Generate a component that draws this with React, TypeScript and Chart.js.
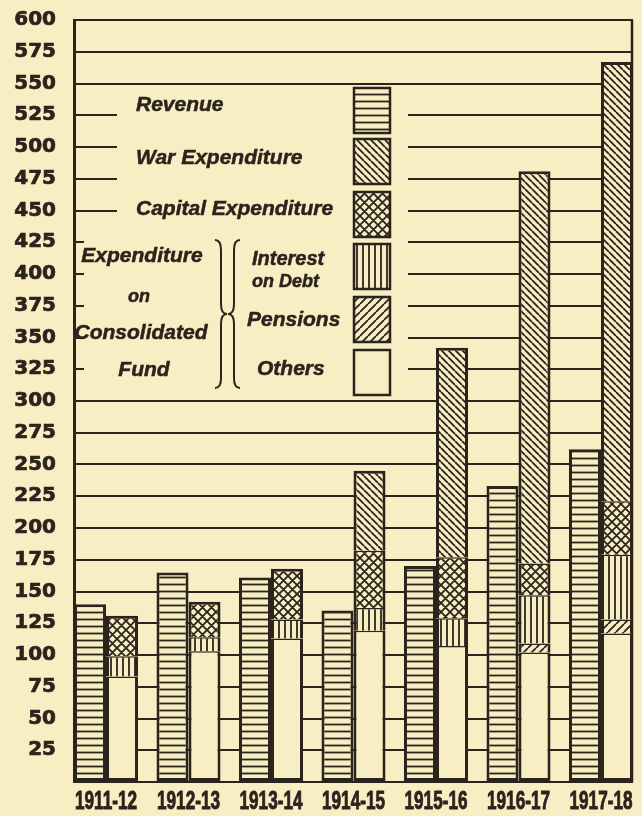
import React, { useEffect, useRef } from 'react';
import { Chart, registerables } from 'chart.js';

Chart.register(...registerables);

// ---- data (millions £) ----
const years = ['1911-12', '1912-13', '1913-14', '1914-15', '1915-16', '1916-17', '1917-18'];
const revenue = [140, 165, 161, 135, 170, 233, 262];
const others = [83, 103, 113, 119, 107, 102, 117];
const pensions = [0, 0, 0, 0, 0, 7, 11];
const interest = [16, 11, 15, 18, 22, 38, 51];
const capital = [32, 28, 40, 45, 48, 25, 42];
const war = [0, 0, 0, 63, 165, 309, 346];
const yMin = 0;
const yMax = 600;
const yStep = 25;

const PAPER = '#f8eec4';
const INK = '#2a241d';

function makePattern(kind: string): CanvasPattern | string {
  if (kind === 'none') return PAPER;
  const s = kind === 'cross' ? 9 : kind === 'h' ? 7 : kind === 'v' ? 6 : kind === 'fwd' ? 8 : 7;
  const c = document.createElement('canvas');
  c.width = s;
  c.height = s;
  const g = c.getContext('2d')!;
  g.fillStyle = PAPER;
  g.fillRect(0, 0, s, s);
  g.strokeStyle = INK;
  g.lineWidth = kind === 'h' || kind === 'v' ? 1.8 : 1.8;
  g.beginPath();
  if (kind === 'h') {
    g.moveTo(0, s / 2);
    g.lineTo(s, s / 2);
  } else if (kind === 'v') {
    g.moveTo(s / 2, 0);
    g.lineTo(s / 2, s);
  } else {
    const back = kind === 'back' || kind === 'cross';
    const fwd = kind === 'fwd' || kind === 'cross';
    for (let k = -1; k <= 1; k++) {
      if (back) {
        g.moveTo(k * s, 0);
        g.lineTo(k * s + s, s);
      }
      if (fwd) {
        g.moveTo(k * s, s);
        g.lineTo(k * s + s, 0);
      }
    }
  }
  g.stroke();
  return g.createPattern(c, 'repeat')!;
}

function drawBrace(ctx: CanvasRenderingContext2D, x0: number, y0: number, y1: number, dir: number, w: number) {
  const ym = (y0 + y1) / 2;
  const r = 10;
  const xm = x0 + (dir * w) / 2;
  const xt = x0 + dir * w;
  ctx.beginPath();
  ctx.moveTo(x0, y0);
  ctx.quadraticCurveTo(xm, y0, xm, y0 + r);
  ctx.lineTo(xm, ym - r);
  ctx.quadraticCurveTo(xm, ym, xt, ym);
  ctx.quadraticCurveTo(xm, ym, xm, ym + r);
  ctx.lineTo(xm, y1 - r);
  ctx.quadraticCurveTo(xm, y1, x0, y1);
  ctx.stroke();
}

export default function App() {
  const ref = useRef<HTMLCanvasElement | null>(null);

  useEffect(() => {
    if (!ref.current) return;
    const pats: Record<string, CanvasPattern | string> = {
      h: makePattern('h'),
      back: makePattern('back'),
      cross: makePattern('cross'),
      v: makePattern('v'),
      fwd: makePattern('fwd'),
      none: makePattern('none'),
    };

    const expSeries = [
      { label: 'Others', values: others, pat: 'none' },
      { label: 'Pensions', values: pensions, pat: 'fwd' },
      { label: 'Interest on Debt', values: interest, pat: 'v' },
      { label: 'Capital Expenditure', values: capital, pat: 'cross' },
      { label: 'War Expenditure', values: war, pat: 'back' },
    ];

    const toPoints = (vals: number[]) =>
      vals.map((v, i) => ({ x: i, y: v })).filter((p) => p.y > 0);

    const datasets: any[] = [
      {
        label: 'Revenue',
        data: toPoints(revenue),
        stack: 'rev',
        backgroundColor: pats.h,
        borderColor: INK,
        borderWidth: 3,
        borderSkipped: false,
        barPercentage: 1,
        categoryPercentage: 0.776,
      },
      ...expSeries.map((s, j) => ({
        label: s.label,
        data: toPoints(s.values),
        stack: 'exp',
        backgroundColor: pats[s.pat],
        borderColor: INK,
        borderSkipped: false,
        barPercentage: 1,
        categoryPercentage: 0.776,
        borderWidth: (ctx: any) => {
          const i = ctx.raw ? ctx.raw.x : 0;
          let isTop = true;
          for (let k = j + 1; k < expSeries.length; k++) {
            if (expSeries[k].values[i] > 0) isTop = false;
          }
          return { left: 3, right: 3, top: isTop ? 3 : 1.5, bottom: j === 0 ? 3 : 0 };
        },
      })),
    ];

    const legendPlugin = {
      id: 'oldLegend',
      beforeDraw(chart: any) {
        const c = chart.ctx;
        c.save();
        c.fillStyle = PAPER;
        c.fillRect(0, 0, chart.width, chart.height);
        c.restore();
      },
      beforeDatasetsDraw(chart: any) {
        const c = chart.ctx as CanvasRenderingContext2D;
        const a = chart.chartArea;
        c.save();
        c.fillStyle = PAPER;
        c.fillRect(117, 86, 408 - 117, 224 - 86);
        c.fillRect(84, 224, 408 - 84, 397 - 224);
        c.strokeStyle = INK;
        c.lineWidth = 2.5;
        c.beginPath();
        c.moveTo(a.right - 1, a.top);
        c.lineTo(a.right - 1, a.bottom);
        c.stroke();
        c.restore();
      },
      afterDatasetsDraw(chart: any) {
        const c = chart.ctx as CanvasRenderingContext2D;
        c.save();
        c.fillStyle = INK;
        c.strokeStyle = INK;
        c.lineWidth = 0.5;
        c.textBaseline = 'middle';
        const fam = '"Liberation Sans", Arial, sans-serif';
        const f = (sz: number) => `italic bold ${sz}px ${fam}`;
        const t = (s: string, x: number, y: number) => {
          c.fillText(s, x, y);
          c.strokeText(s, x, y);
        };
        c.textAlign = 'left';
        c.font = f(21);
        t('Revenue', 136, 105);
        t('War Expenditure', 136, 158);
        t('Capital Expenditure', 136, 209);
        t('Pensions', 247, 320);
        t('Others', 257, 369);
        c.font = f(20);
        t('Interest', 252, 259);
        c.font = f(18);
        t('on Debt', 252, 282);
        c.textAlign = 'center';
        c.font = f(21);
        t('Expenditure', 142, 256);
        t('Consolidated', 141, 333);
        t('Fund', 144, 370);
        c.font = f(18);
        t('on', 139, 297);

        c.lineWidth = 2;
        drawBrace(c, 215, 240, 388, 1, 12);
        drawBrace(c, 240, 240, 388, -1, 12);

        const sw = [
          { y: 88, p: 'h' },
          { y: 139, p: 'back' },
          { y: 192, p: 'cross' },
          { y: 244, p: 'v' },
          { y: 297, p: 'fwd' },
          { y: 350, p: 'none' },
        ];
        sw.forEach((s) => {
          c.fillStyle = pats[s.p] as any;
          c.fillRect(354, s.y, 36, 45);
          c.lineWidth = 2.5;
          c.strokeStyle = INK;
          c.strokeRect(354, s.y, 36, 45);
        });
        c.restore();
      },
      afterDraw(chart: any) {
        // condensed year labels under each pair, positioned by the x scale
        const c = chart.ctx as CanvasRenderingContext2D;
        const xs = chart.scales.x;
        const a = chart.chartArea;
        c.save();
        c.fillStyle = INK;
        c.strokeStyle = INK;
        c.lineWidth = 0.9;
        c.textAlign = 'center';
        c.textBaseline = 'middle';
        c.font = 'bold 26px "Liberation Sans", Arial, sans-serif';
        const sx = 0.66;
        years.forEach((yr, i) => {
          const px = xs.getPixelForValue(i);
          c.save();
          c.translate(px, a.bottom + 20);
          c.scale(sx, 1);
          c.fillText(yr, 0, 0);
          c.strokeText(yr, 0, 0);
          c.restore();
        });
        c.restore();
      },
    };

    const chart = new Chart(ref.current, {
      type: 'bar',
      data: { datasets },
      options: {
        animation: false,
        responsive: false,
        devicePixelRatio: 1,
        layout: { padding: { top: 20, right: 9, bottom: 0, left: 0 } },
        plugins: { legend: { display: false }, tooltip: { enabled: false } },
        scales: {
          x: {
            type: 'linear',
            offset: false,
            min: -0.388,
            max: 6.388,
            grid: { display: false, drawTicks: false, offset: false },
            border: { display: false },
            afterBuildTicks: (s: any) => {
              s.ticks = years.map((_, i) => ({ value: i }));
            },
            afterFit: (s: any) => {
              s.height = 34;
              s.paddingLeft = 0;
              s.paddingRight = 0;
            },
            ticks: { display: false },
          },
          y: {
            stacked: true,
            min: yMin,
            max: yMax,
            afterFit: (s: any) => {
              s.width = 74;
              s.paddingTop = 0;
              s.paddingBottom = 0;
            },
            grid: { color: INK, lineWidth: 2, drawTicks: false },
            border: { display: true, color: INK, width: 3 },
            ticks: {
              stepSize: yStep,
              autoSkip: false,
              padding: 18,
              color: INK,
              textStrokeColor: INK,
              textStrokeWidth: 0.7,
              font: { family: '"DejaVu Sans", sans-serif', weight: 'bold', size: 20 },
              callback: (v: any) => (Number(v) === 0 ? '' : String(v)),
            },
          },
        },
      } as any,
      plugins: [legendPlugin],
    });
    return () => chart.destroy();
  }, []);

  return (
    <div style={{ position: 'absolute', left: 0, top: 0, width: 642, height: 816, background: PAPER, overflow: 'hidden' }}>
      <canvas ref={ref} width={642} height={816} style={{ display: 'block' }} />
    </div>
  );
}
